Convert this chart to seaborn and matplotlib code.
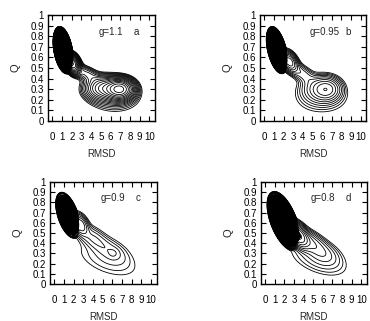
import numpy as np
import matplotlib
matplotlib.use("Agg")
import matplotlib.pyplot as plt
import seaborn as sns

# panel letters and the g value of each run
panel_tags = ["a", "b", "c", "d"]
g_values = ["1.1", "0.95", "0.9", "0.8"]

x_ticks = [0, 1, 2, 3, 4, 5, 6, 7, 8, 9, 10]
y_ticks = [0, 0.1, 0.2, 0.3, 0.4, 0.5, 0.6, 0.7, 0.8, 0.9, 1]
y_tick_labels = ["0", "0.1", "0.2", "0.3", "0.4", "0.5", "0.6", "0.7", "0.8", "0.9", "1"]

# population basins in (RMSD, Q): centre, spread, correlation, weight,
# and edge sharpness (1 = gaussian, larger = flatter top, steeper rim)
a_cx = [1.1, 2.1, 3.5, 5.3, 7.0, 6.5]
a_cy = [0.67, 0.54, 0.45, 0.31, 0.30, 0.20]
a_sx = [0.58, 0.40, 0.8, 1.1, 0.8, 1.8]
a_sy = [0.125, 0.05, 0.05, 0.065, 0.055, 0.09]
a_rho = [-0.35, -0.3, -0.5, 0.0, 0.0, 0.0]
a_w = [1.0, 0.05, 0.006, 0.02, 0.05, 0.003]
a_p = [4, 1, 1, 1, 1, 1]

b_cx = [1.3, 2.6, 3.9, 5.5, 6.5, 6.0]
b_cy = [0.67, 0.56, 0.45, 0.30, 0.30, 0.20]
b_sx = [0.62, 0.45, 0.8, 1.0, 0.8, 1.8]
b_sy = [0.125, 0.05, 0.06, 0.07, 0.06, 0.09]
b_rho = [-0.45, -0.4, -0.6, 0.0, 0.0, 0.0]
b_w = [1.0, 0.05, 0.008, 0.012, 0.03, 0.003]
b_p = [4, 1, 1, 1, 1, 1]

c_cx = [1.4, 2.7, 4.0, 5.8, 6.1, 5.5]
c_cy = [0.675, 0.58, 0.45, 0.33, 0.30, 0.24]
c_sx = [0.70, 0.4, 0.9, 1.0, 0.35, 1.8]
c_sy = [0.125, 0.05, 0.07, 0.07, 0.03, 0.10]
c_rho = [-0.5, -0.4, -0.6, -0.5, 0.0, -0.5]
c_w = [1.0, 0.05, 0.01, 0.006, 0.004, 0.003]
c_p = [4, 1, 1, 1, 1, 1]

d_cx = [1.9, 3.4, 4.5, 6.0, 5.5]
d_cy = [0.62, 0.48, 0.42, 0.30, 0.24]
d_sx = [0.95, 0.55, 1.0, 1.0, 1.8]
d_sy = [0.16, 0.06, 0.07, 0.07, 0.10]
d_rho = [-0.55, -0.5, -0.6, -0.4, -0.5]
d_w = [1.0, 0.1, 0.015, 0.006, 0.003]
d_p = [4, 1, 1, 1, 1]

basins = [
    (a_cx, a_cy, a_sx, a_sy, a_rho, a_w, a_p),
    (b_cx, b_cy, b_sx, b_sy, b_rho, b_w, b_p),
    (c_cx, c_cy, c_sx, c_sy, c_rho, c_w, c_p),
    (d_cx, d_cy, d_sx, d_sy, d_rho, d_w, d_p),
]

# contour spacing per panel: lowest level, highest line, number of lines
line_lo = [0.0015, 0.0015, 0.001, 0.001]
line_hi = [0.08, 0.08, 0.03, 0.09]
line_n = [18, 12, 7, 11]
fill_level = 0.1

# axes boxes in figure fractions
boxes = [
    [0.130, 0.623, 0.289, 0.330],
    [0.703, 0.623, 0.287, 0.330],
    [0.135, 0.115, 0.289, 0.318],
    [0.705, 0.115, 0.287, 0.318],
]

sns.set_style("ticks")
plt.rcParams["font.family"] = ["Liberation Sans", "DejaVu Sans"]
plt.rcParams["font.size"] = 7

fig = plt.figure(figsize=(3.7, 3.21), dpi=100)

gx = np.linspace(-0.5, 10.8, 400)
gy = np.linspace(0.0, 1.0, 320)
X, Y = np.meshgrid(gx, gy)


def population(cx, cy, sx, sy, rho, w, p):
    Z = np.zeros_like(X)
    for mx, my, vx, vy, r, wt, pw in zip(cx, cy, sx, sy, rho, w, p):
        u = (X - mx) / vx
        v = (Y - my) / vy
        q = (u * u - 2 * r * u * v + v * v) / (2 * (1 - r * r))
        Z += wt * np.exp(-q ** pw)
    return Z


for i, (box, tag, g, basin) in enumerate(zip(boxes, panel_tags, g_values, basins)):
    ax = fig.add_axes(box)
    Z = population(*basin)
    levels = np.geomspace(line_lo[i], line_hi[i], line_n[i])
    # densely populated basin drawn solid
    mask = (Z >= fill_level).astype(float)
    ax.contourf(X, Y, mask, levels=[0.5, 1.5], colors="black", antialiased=False)
    ax.contour(X, Y, Z, levels=[fill_level], colors="black", linewidths=0.6)
    ax.contour(X, Y, Z, levels=levels, colors="black", linewidths=0.6)

    ax.set_xlim(-0.45, 10.6)
    ax.set_ylim(0, 1)
    ax.set_xticks(x_ticks)
    ax.set_yticks(y_ticks)
    ax.set_yticklabels(y_tick_labels)
    ax.tick_params(direction="in", top=True, right=True, length=3.5, width=0.8,
                   labelsize=7, colors="black")
    ax.tick_params(axis="x", pad=8)
    ax.tick_params(axis="y", pad=3)
    for s in ax.spines.values():
        s.set_linewidth(1.0)
        s.set_color("black")
    ax.set_xlabel("RMSD", fontsize=7, labelpad=5)
    ax.set_ylabel("Q", fontsize=8, labelpad=7)
    ax.text(0.47, 0.84, f"g={g}", transform=ax.transAxes, fontsize=7,
            va="center", ha="left")
    ax.text(0.80, 0.84, tag, transform=ax.transAxes, fontsize=7,
            va="center", ha="left")

fig.savefig("out.png", dpi=100, facecolor="white")
